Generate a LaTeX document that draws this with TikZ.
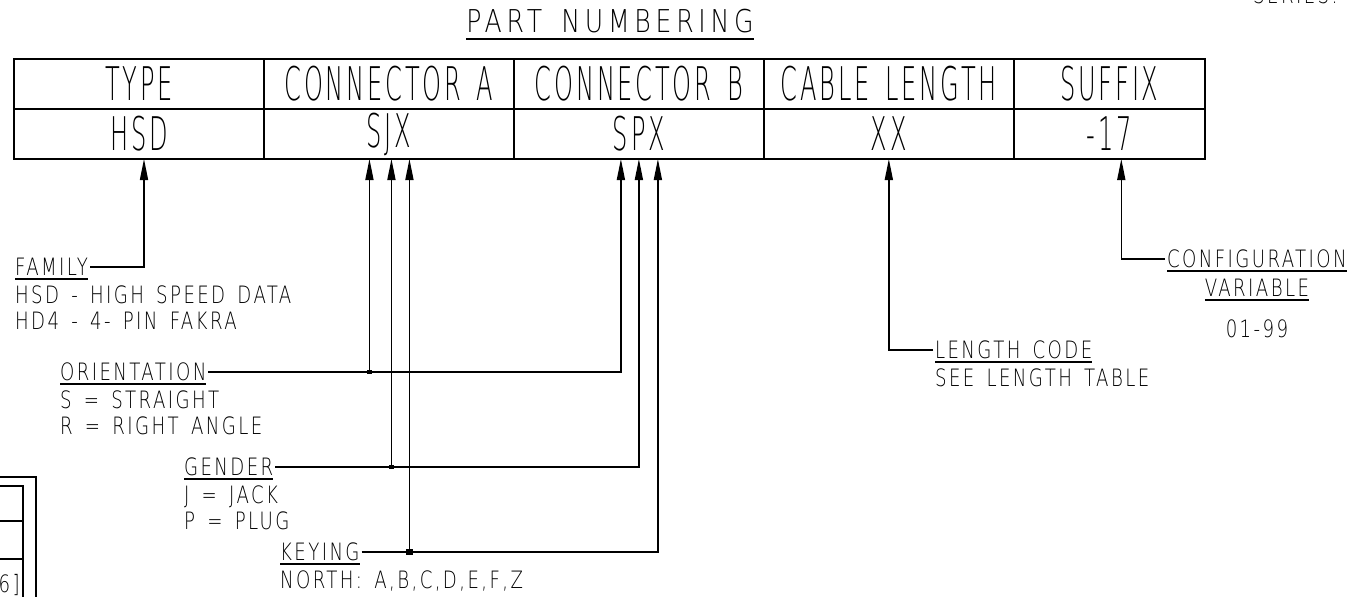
\documentclass[tikz,border=0pt]{standalone}
\usepackage{fontspec}
\usetikzlibrary{positioning,arrows.meta}

\newfontfamily\cadfont{DejaVuSans-ExtraLight.ttf}[FakeStretch=0.76, LetterSpace=10, WordSpace=1.5]
\newfontfamily\cadtall{DejaVuSans-ExtraLight.ttf}[FakeStretch=0.52, LetterSpace=6, WordSpace=1.5]
\newfontfamily\cadtitle{DejaVuSans-ExtraLight.ttf}[FakeStretch=0.8, LetterSpace=15, WordSpace=1.5]
\newcommand{\labelfont}{\cadfont\fontsize{13.6pt}{14.7pt}\selectfont}
\newcommand{\tablefont}{\cadtall\fontsize{26.4pt}{28pt}\selectfont}
\newcommand{\titlefont}{\cadtitle\fontsize{17.9pt}{20pt}\selectfont}
\newcommand{\cadul}[2][-2.2pt]{\setbox0\hbox{#2}\rlap{\rule[#1]{\wd0}{0.8pt}}\box0}

\begin{document}
\begin{tikzpicture}[
  x=0.02cm, y=-0.02cm,
  cell/.style={rectangle, draw, line width=0.8pt, minimum width=5cm, minimum height=1cm, inner sep=0pt, outer sep=0pt, font=\tablefont},
  heading/.style={inner sep=1pt, anchor=west, text depth=0pt, font=\labelfont},
  desc/.style={inner sep=1pt, align=left, font=\labelfont},
  pointer/.style={-{Triangle[length=12pt,width=4.6pt]}, line width=0.8pt},
  jdot/.style={rectangle, fill, inner sep=0pt, minimum size=#1},
  font=\labelfont
]
\useasboundingbox (0,0) rectangle (1353,597);
\clip (0,0) rectangle (1353,597);

\node[font=\titlefont, text depth=0pt, inner sep=0pt] (title) at (610,21) {\cadul[-4pt]{PART NUMBERING}};

% Table
\node[cell] (type) at (139,84) {TYPE};
\node[cell, right=0pt of type] (conna) {CONNECTOR A};
\node[cell, right=0pt of conna] (connb) {CONNECTOR B};
\node[cell, right=0pt of connb] (cablelen) {CABLE LENGTH};
\node[cell, right=0pt of cablelen, minimum width=3.82cm] (suffix) {SUFFIX};
\node[cell, below=0pt of type] (hsd) {HSD};
\node[cell, below=0pt of conna] (sjx) {SJX};
\node[cell, below=0pt of connb] (spx) {SPX};
\node[cell, below=0pt of cablelen] (xx) {XX};
\node[cell, below=0pt of suffix, minimum width=3.82cm] (sfx) {-17};

% Legends
\node[heading] (family) at (13,267) {\cadul{FAMILY}};
\node[desc, below right=0.12cm and 0cm of family.south west] (familytxt) {HSD - HIGH SPEED DATA\\HD4 - 4- PIN FAKRA};
\node[heading] (orient) at (58,372) {\cadul{ORIENTATION}};
\node[desc, below right=0.12cm and 0cm of orient.south west] (orienttxt) {S = STRAIGHT\\R = RIGHT ANGLE};
\node[heading] (gender) at (182,467) {\cadul{GENDER}};
\node[desc, below right=0.12cm and 0cm of gender.south west] (gendertxt) {J = JACK\\P = PLUG};
\node[heading] (keying) at (278,552) {\cadul{KEYING}};
\node[desc, below right=0.12cm and 0cm of keying.south west] (keyingtxt) {NORTH: A,B,C,D,E,F,Z};
\node[heading] (lencode) at (933,350) {\cadul{LENGTH CODE}};
\node[desc, below right=0.12cm and 0cm of lencode.south west] (lencodetxt) {SEE LENGTH TABLE};
\node[heading] (config) at (1165,259) {\cadul{CONFIGURATION}};
\node[below=0.15cm of config, inner sep=1pt, text depth=0pt] (variable) {\cadul{VARIABLE}};
\node[below=0.37cm of variable, inner sep=1pt] (range) {01-99};

% Arrows
\coordinate (hsdtip) at ([xshift=0.1cm]hsd.south);
\coordinate (sja) at ([xshift=-0.39cm]sjx.south);
\coordinate (sjb) at ([xshift=0.05cm]sjx.south);
\coordinate (sjc) at ([xshift=0.41cm]sjx.south);
\coordinate (spa) at ([xshift=-0.36cm]spx.south);
\coordinate (spc) at ([xshift=0.38cm]spx.south);
\coordinate (sfxtip) at ([xshift=0.24cm]sfx.south);
\draw[pointer] (family.east) -| (hsdtip);
\draw[pointer] (orient.east) -| (spa);
\draw[pointer] (gender.east) -| (spx.south);
\draw[pointer] (keying.east) -| (spc);
\draw[pointer] (orient.east -| sja) -- (sja);
\draw[pointer] (gender.east -| sjb) -- (sjb);
\draw[pointer] (keying.east -| sjc) -- (sjc);
\draw[pointer] (lencode.west) -| (xx.south);
\draw[pointer] (config.west) -| (sfxtip);
\node[jdot=2.4pt] (odot) at (orient.east -| sja) {};
\node[jdot=2.4pt] (gdot) at (gender.east -| sjb) {};
\node[jdot=3.8pt] (kdot) at (keying.east -| sjc) {};

% Cut-off parts at the edges
\node[anchor=base east, inner sep=0pt] (series) at (1338,4) {SERIES:};
\draw[line width=0.8pt] (0,477) -| (36,597);
\draw[line width=0.8pt] (0,486) -| (23,597);
\draw[line width=0.8pt] (0,521) -- (23,521);
\draw[line width=0.8pt] (0,559) -- (23,559);
\node[anchor=base east, inner sep=0pt] (refnum) at (20,593) {6]};

\end{tikzpicture}
\end{document}
